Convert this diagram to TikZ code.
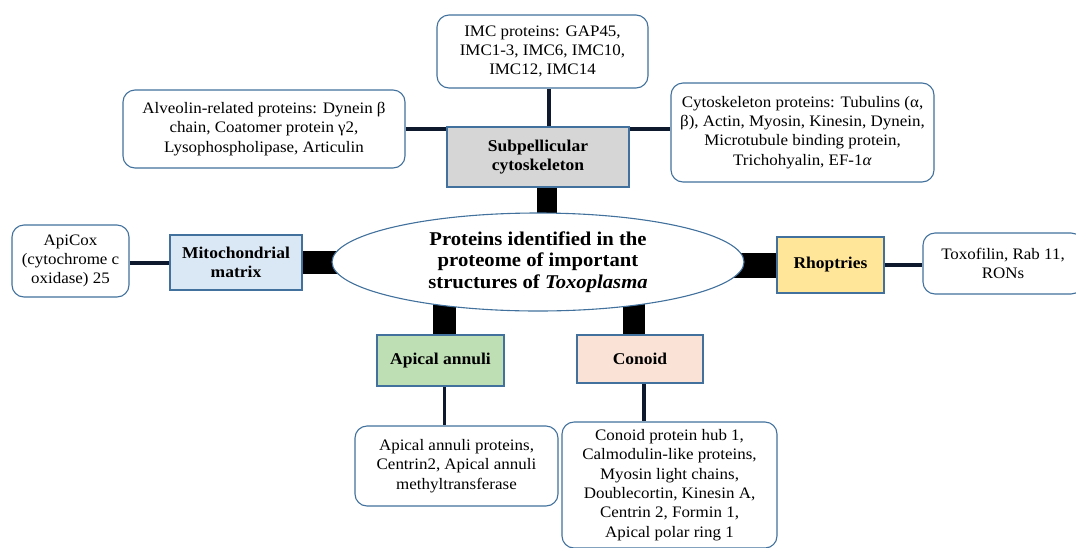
\documentclass[tikz,border=0pt]{standalone}
\usepackage{fontspec}
\setmainfont{Liberation Serif}[FakeStretch=1.06]
\usetikzlibrary{shapes.geometric}
\pgfdeclarelayer{background}
\pgfsetlayers{background,main}
\definecolor{edgeblue}{RGB}{65,113,156}
\definecolor{linknavy}{RGB}{15,25,45}
\definecolor{subgray}{RGB}{214,214,214}
\definecolor{mitoblue}{RGB}{218,231,244}
\definecolor{rhoyellow}{RGB}{255,230,153}
\definecolor{annuligreen}{RGB}{190,222,180}
\definecolor{conoidpink}{RGB}{251,226,214}

\begin{document}
\begin{tikzpicture}[x=1pt,y=-1pt]
\tikzstyle{info}=[draw=edgeblue, line width=1.1pt, rounded corners=12pt, fill=white, align=center, inner sep=0pt, font=\fontsize{16}{19.3}\selectfont]
\tikzstyle{group}=[draw=edgeblue, line width=1.1pt, align=center, inner sep=0pt, font=\fontsize{16.5}{19.5}\selectfont\bfseries]
\tikzstyle{link}=[draw=linknavy, line width=3.5pt]
\tikzstyle{plug}=[draw=black]

\useasboundingbox (0,0) rectangle (1076,547);

% central ellipse
\node[ellipse, draw=edgeblue, line width=1.1pt, fill=white, minimum width=412, minimum height=98, inner sep=0pt, align=center, font=\fontsize{19.5}{21.5}\selectfont\bfseries] (core) at (538,262) {Proteins identified in the\\ proteome of important\\ structures of \textit{Toxoplasma}};

% structures
\node[group, fill=subgray, minimum width=182, minimum height=60] (sub) at (538,157) {Subpellicular\\ cytoskeleton};
\node[group, fill=mitoblue, minimum width=132, minimum height=55] (mito) at (236,262.5) {Mitochondrial\\ matrix};
\node[group, fill=rhoyellow, minimum width=107, minimum height=56] (rho) at (830.5,265) {Rhoptries};
\node[group, fill=annuligreen, minimum width=127, minimum height=51] (annuli) at (440.5,360.5) {Apical annuli};
\node[group, fill=conoidpink, minimum width=126, minimum height=48] (conoid) at (640,359) {Conoid};

% protein lists
\node[info, minimum width=211, minimum height=73] (imc) at (542.5,51.5) {IMC proteins: GAP45,\\ IMC1-3, IMC6, IMC10,\\ IMC12, IMC14};
\node[info, minimum width=282, minimum height=78] (alv) at (264,129) {Alveolin-related proteins: Dynein β\\ chain, Coatomer protein γ2,\\ Lysophospholipase, Articulin};
\node[info, minimum width=263, minimum height=99] (cyto) at (802.5,132.5) {Cytoskeleton proteins: Tubulins (α,\\ β), Actin, Myosin, Kinesin, Dynein,\\ Microtubule binding protein,\\ Trichohyalin, EF-1\textit{α}};
\node[info, minimum width=117, minimum height=72] (apicox) at (70.5,261) {ApiCox\\ (cytochrome c\\ oxidase) 25};
\node[info, minimum width=160, minimum height=61] (toxo) at (1003,263.5) {Toxofilin, Rab 11,\\ RONs};
\node[info, minimum width=203, minimum height=80] (annp) at (456.5,466) {Apical annuli proteins,\\ Centrin2, Apical annuli\\ methyltransferase};
\node[info, minimum width=215, minimum height=126] (conp) at (669.5,485) {Conoid protein hub 1,\\ Calmodulin-like proteins,\\ Myosin light chains,\\ Doublecortin, Kinesin A,\\ Centrin 2, Formin 1,\\ Apical polar ring 1};

\begin{pgfonlayer}{background}
% thick plugs into the ellipse
\draw[plug, line width=20pt] ([xshift=9pt]sub.south) -- ([xshift=9pt]sub.south |- core.center);
\draw[plug, line width=23pt] (mito.east) -- (mito.east -| core.center);
\draw[plug, line width=25pt] (rho.west) -- (rho.west -| core.center);
\draw[plug, line width=23pt] ([xshift=4pt]annuli.north) -- ([xshift=4pt]annuli.north |- core.center);
\draw[plug, line width=22pt] ([xshift=-6pt]conoid.north) -- ([xshift=-6pt]conoid.north |- core.center);

% thin links to the lists
\draw[link] ([xshift=6.5pt]imc.south) -- ([xshift=6.5pt]imc.south |- sub.north);
\draw[link] (alv.east) -- (alv.east -| sub.west);
\draw[link] (alv.east -| sub.east) -- (alv.east -| cyto.west);
\draw[link] ([yshift=-2pt]apicox.east) -- ([yshift=-2pt]apicox.east -| mito.west);
\draw[link] (rho.east) -- (rho.east -| toxo.west);
\draw[link] ([xshift=4pt]annuli.south) -- ([xshift=4pt]annuli.south |- annp.north);
\draw[link] ([xshift=4pt]conoid.south) -- ([xshift=4pt]conoid.south |- conp.north);
\end{pgfonlayer}
\end{tikzpicture}
\end{document}
